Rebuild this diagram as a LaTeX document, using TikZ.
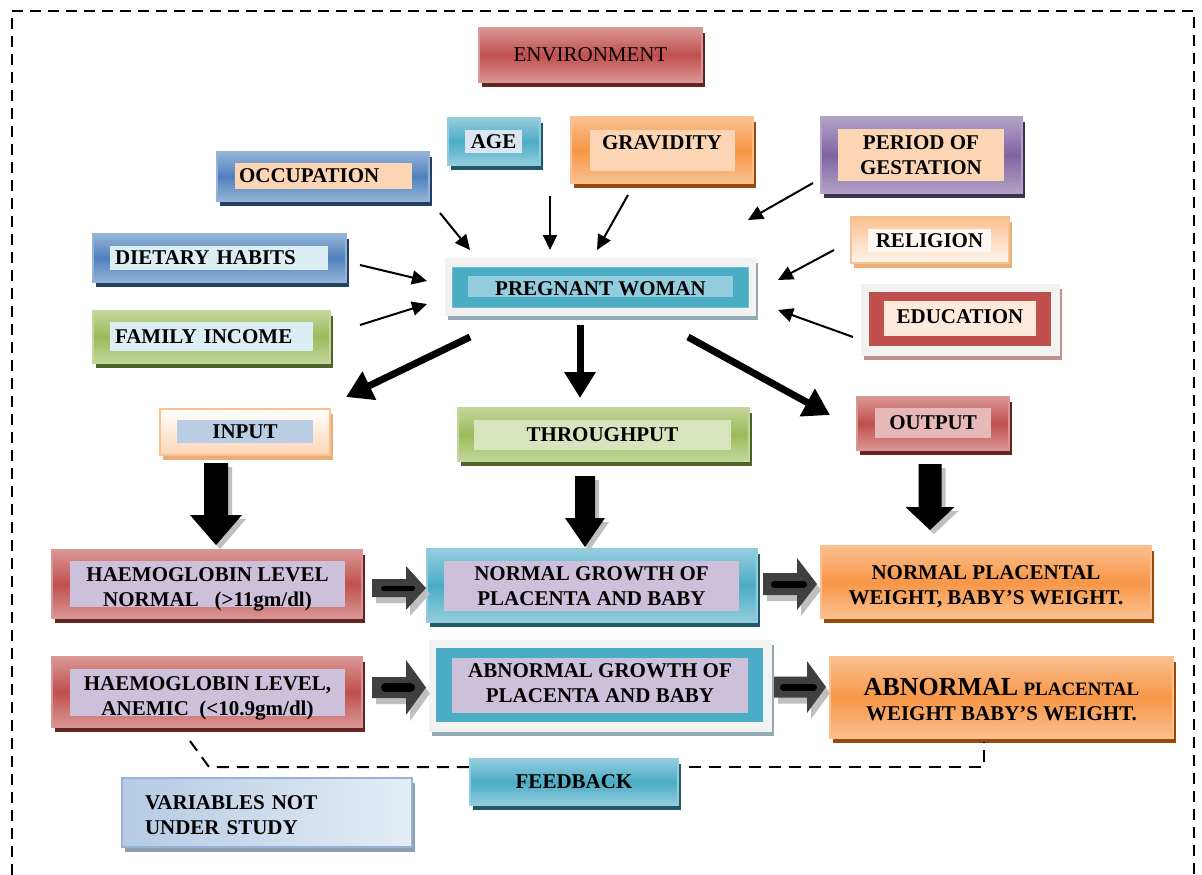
\documentclass[tikz,border=0pt]{standalone}
\usepackage{fontspec}
\setmainfont{Liberation Serif}
\usetikzlibrary{shadows,arrows.meta,calc}
\definecolor{redL}{HTML}{D99694}\definecolor{redM}{HTML}{C0504D}\definecolor{redS}{HTML}{632523}
\definecolor{bluL}{HTML}{95B3D7}\definecolor{bluM}{HTML}{4F81BD}\definecolor{bluS}{HTML}{243F60}
\definecolor{aquL}{HTML}{93CDDD}\definecolor{aquM}{HTML}{4BACC6}\definecolor{aquS}{HTML}{215968}
\definecolor{oraL}{HTML}{FAC090}\definecolor{oraM}{HTML}{F79646}\definecolor{oraS}{HTML}{984807}
\definecolor{purL}{HTML}{B3A2C7}\definecolor{purM}{HTML}{8064A2}\definecolor{purS}{HTML}{3F3151}
\definecolor{grnL}{HTML}{C3D69B}\definecolor{grnM}{HTML}{9BBB59}\definecolor{grnS}{HTML}{4F6228}
\definecolor{peach}{HTML}{FCD5B5}\definecolor{iceblue}{HTML}{DBEEF4}\definecolor{lav}{HTML}{CCC0DA}
\definecolor{ltgrn}{HTML}{D7E4BD}\definecolor{pinkl}{HTML}{E6B9B8}\definecolor{inblue}{HTML}{B9CDE5}
\definecolor{grayblue}{HTML}{DBE5F1}\definecolor{paleor}{HTML}{FDEADA}\definecolor{frameg}{HTML}{F2F2F2}
\definecolor{ltshadow}{HTML}{93A9B5}\definecolor{arrg}{HTML}{404040}\definecolor{arrsh}{HTML}{BFBFBF}
\newcommand\blkdown[6]{%
  \fill[arrsh,shift={(4,4)}] ({#1-#5},#2) -- ({#1+#5},#2) -- ({#1+#5},#3) -- ({#1+#6},#3) -- (#1,#4) -- ({#1-#6},#3) -- ({#1-#5},#3) -- cycle;
  \fill[black] ({#1-#5},#2) -- ({#1+#5},#2) -- ({#1+#5},#3) -- ({#1+#6},#3) -- (#1,#4) -- ({#1-#6},#3) -- ({#1-#5},#3) -- cycle;}
\newcommand\blkright[9]{% x0, xhead, xtip, cy, shaft half, head half, bar x0, bar x1, bar half
  \fill[arrsh,shift={(4,6)}] (#1,{#4-#5}) -- (#2,{#4-#5}) -- (#2,{#4-#6}) -- (#3,#4) -- (#2,{#4+#6}) -- (#2,{#4+#5}) -- (#1,{#4+#5}) -- cycle;
  \fill[arrg] (#1,{#4-#5}) -- (#2,{#4-#5}) -- (#2,{#4-#6}) -- (#3,#4) -- (#2,{#4+#6}) -- (#2,{#4+#5}) -- (#1,{#4+#5}) -- cycle;
  \draw[black,line width={2*#9},line cap=round] ({#7+#9},#4) -- ({#8-#9},#4);}
\tikzset{
  gbox/.style n args={3}{draw=#1, line width=1.2pt, top color=#1, bottom color=#1, middle color=#2,
    inner sep=0pt, align=center, drop shadow={shadow xshift=3pt,shadow yshift=-5pt,fill=#3,opacity=1}},
  lab/.style={fill=#1, inner sep=0pt, align=center},
  fbox/.style={fill=frameg, draw=white!90!gray, line width=0.8pt, inner sep=0pt,
    drop shadow={shadow xshift=3pt,shadow yshift=-5pt,fill=#1,opacity=1}},
  twolow/.style={text height=45pt, text depth=0pt},
  twomid/.style={text height=39pt, text depth=0pt},
  thinarr/.style={line width=2pt, -{Triangle[length=15pt,width=14pt]}},
  thickarr/.style={line width=7pt, -{Triangle[length=26pt,width=30pt]}},
  fbline/.style={line width=2pt, dash pattern=on 12pt off 8pt},
  frameline/.style={line width=2pt, dash pattern=on 11pt off 7pt},
}
\begin{document}
\begin{tikzpicture}[x=1pt,y=-1pt,font=\fontsize{21}{25}\selectfont\bfseries]
\useasboundingbox (0,0) rectangle (1202,875);
\fill[white] (0,0) rectangle (1202,875);
\draw[frameline] (12,875) -- (12,11) -- (1194,11) -- (1194,875);

% top boxes
\node[gbox={redL}{redM}{redS}, minimum width=223, minimum height=54, font=\fontsize{21}{25}\selectfont\mdseries] (env) at (590.5,55) {ENVIRONMENT};

\node[gbox={aquL}{aquM}{aquS}, minimum width=92, minimum height=47] (age) at (494,141.5) {};
\node[lab=grayblue, minimum width=57, minimum height=23] (agel) at (493.5,141.5) {AGE};

\node[gbox={oraL}{oraM}{oraS}, minimum width=182, minimum height=66] (grav) at (662,150) {};
\node[lab=peach, minimum width=145, minimum height=41] (gravl) at (662.5,150.5) {};
\node (gravt) at (662,143) {GRAVIDITY};

\node[gbox={bluL}{bluM}{bluS}, minimum width=212, minimum height=49] (occ) at (323,176.5) {};
\node[lab=peach, inner xsep=4pt, text width=169pt, minimum height=26, align=left] (occl) at (323.5,176) {OCCUPATION};

\node[gbox={purL}{purM}{purS}, minimum width=201, minimum height=76] (per) at (921.5,155) {};
\node[lab=peach, twomid, minimum width=166, minimum height=52] (perl) at (921,155) {PERIOD OF\\GESTATION};

\node[gbox={bluL}{bluM}{bluS}, minimum width=253, minimum height=48] (diet) at (219.5,258) {};
\node[lab=iceblue, inner xsep=5pt, text width=208pt, minimum height=24, align=left] (dietl) at (219,258) {DIETARY HABITS};

\node[gbox={grnL}{grnM}{grnS}, minimum width=237, minimum height=52] (fam) at (211.5,337) {};
\node[lab=iceblue, inner xsep=5pt, text width=193pt, minimum height=29, align=left] (faml) at (211.5,336.5) {FAMILY INCOME};

% pregnant woman
\node[fbox=ltshadow, minimum width=310, minimum height=57] (preg) at (600,286.5) {};
\node[fill=aquM, draw=aquM!80!white, line width=0.8pt, inner sep=0pt, minimum width=296, minimum height=40] (pregin) at (600,287) {};
\node[lab=aquL, minimum width=265, minimum height=21, text height=18pt, text depth=0pt] (pregl) at (600.5,286.5) {PREGNANT WOMAN};

% religion, education
\node[draw=oraL, line width=1.2pt, top color=oraL, bottom color=white!85!oraL, inner sep=0pt,
  drop shadow={shadow xshift=3pt,shadow yshift=-5pt,fill=oraL!70!brown,opacity=1},
  minimum width=158, minimum height=46] (rel) at (930,240) {};
\node[lab=white!88!oraL, minimum width=123, minimum height=23] (rell) at (929.5,240.5) {RELIGION};

\node[fbox=redL!70!gray, minimum width=198, minimum height=71] (edu) at (960,319.5) {};
\node[fill=redM, inner sep=0pt, minimum width=182, minimum height=54] (eduin) at (960,319) {};
\node[lab=paleor, minimum width=152, minimum height=35, text height=14pt, text depth=4pt] (edul) at (960,318.5) {EDUCATION};

% input / throughput / output
\node[draw=oraL, line width=1.2pt, top color=white, bottom color=peach, inner sep=0pt,
  drop shadow={shadow xshift=3pt,shadow yshift=-5pt,fill=oraL!70!brown,opacity=1},
  minimum width=170, minimum height=46] (inp) at (245,432) {};
\node[lab=inblue, minimum width=136, minimum height=23] (inpl) at (245,431.5) {INPUT};

\node[gbox={grnL}{grnM}{grnS}, minimum width=291, minimum height=53] (thr) at (603.5,434.5) {};
\node[lab=ltgrn, minimum width=257, minimum height=30] (thrl) at (602.5,435) {THROUGHPUT};

\node[gbox={redL}{redM}{redS}, minimum width=152, minimum height=53] (out) at (933,423.5) {};
\node[lab=pinkl, minimum width=116, minimum height=30] (outl) at (933,423) {OUTPUT};

% rows
\node[gbox={redL}{redM}{redS}, minimum width=310, minimum height=68] (hbn) at (207,584) {};
\node[lab=lav, twolow, minimum width=275, minimum height=46] (hbnl) at (207.5,584) {HAEMOGLOBIN LEVEL\\NORMAL\ \ \ (>11gm/dl)};

\node[gbox={aquL}{aquM}{aquS}, minimum width=330, minimum height=73] (ng) at (592,585.5) {};
\node[lab=lav, twomid, minimum width=295, minimum height=50] (ngl) at (591.5,586) {NORMAL GROWTH OF\\PLACENTA AND BABY};

\node[gbox={oraL}{oraM}{oraS}, twolow, minimum width=330, minimum height=72] (np) at (986,582) {NORMAL PLACENTAL\\WEIGHT, BABY’S WEIGHT.};

\node[gbox={redL}{redM}{redS}, minimum width=310, minimum height=70] (hba) at (207,692) {};
\node[lab=lav, twolow, minimum width=275, minimum height=47] (hbal) at (207.5,692.5) {HAEMOGLOBIN LEVEL,\\ANEMIC\ \ (<10.9gm/dl)};

\node[fbox=ltshadow, minimum width=342, minimum height=91] (ag) at (600,685.5) {};
\node[fill=aquM, inner sep=0pt, minimum width=327, minimum height=74] (agin) at (599.5,685) {};
\node[lab=lav, minimum width=296, minimum height=55] (agl) at (600,685.5) {};
\node[align=center, twomid, inner sep=0pt] (agt) at (600,682.5) {ABNORMAL GROWTH OF\\PLACENTA AND BABY};

\node[gbox={oraL}{oraM}{oraS}, twolow, minimum width=343, minimum height=81] (ap) at (1001.5,697.5)
  {{\fontsize{26}{25}\selectfont ABNORMAL} {\fontsize{19}{25}\selectfont PLACENTAL}\\WEIGHT BABY’S WEIGHT.};

\node[gbox={aquL}{aquM}{aquS}, minimum width=208, minimum height=46] (fb) at (574,782) {FEEDBACK};

\node[draw=bluL, line width=1.2pt, left color=bluL!70!white, right color=grayblue!70!white, inner sep=0pt,
  drop shadow={shadow xshift=3pt,shadow yshift=-5pt,fill=bluL!60!gray,opacity=1},
  text height=14pt, text depth=21pt, minimum height=69, inner xsep=23pt, text width=244pt, align=left] (var) at (267,812.5) {VARIABLES NOT\\UNDER STUDY};

% thin arrows
\coordinate (a1s) at (440,213); \coordinate (a1e) at (470,250);
\coordinate (a2s) at (550,196); \coordinate (a2e) at (550,250);
\coordinate (a3s) at (628,195); \coordinate (a3e) at (597,250);
\coordinate (a4s) at (813,183); \coordinate (a4e) at (748,220);
\coordinate (a5s) at (360,265); \coordinate (a5e) at (427,281);
\coordinate (a6s) at (360,325); \coordinate (a6e) at (427,304);
\coordinate (a7s) at (834,250); \coordinate (a7e) at (778,280);
\coordinate (a8s) at (853,337); \coordinate (a8e) at (778,310);
\foreach \i in {1,...,8} {\draw[thinarr] (a\i s) -- (a\i e);}

% thick arrows
\coordinate (b1s) at (470,337); \coordinate (b1e) at (346,397);
\coordinate (b2s) at (580,325); \coordinate (b2e) at (580,398);
\coordinate (b3s) at (688,337); \coordinate (b3e) at (830,415);
\foreach \i in {1,2,3} {\draw[thickarr] (b\i s) -- (b\i e);}

% block arrows down
\blkdown{216}{463}{515}{545}{12}{26}
\blkdown{585}{476}{518}{547}{10}{20}
\blkdown{930}{464}{507}{530}{11.5}{24.5}

% block arrows right
\blkright{372}{406}{426}{588}{9}{22}{381}{415}{2.5}
\blkright{763}{797}{817}{584}{11}{26}{771}{807}{3.5}
\blkright{372}{406}{426}{687.5}{10.5}{27.5}{381}{415}{4.5}
\blkright{774}{807}{826}{687}{10.5}{26}{780}{817}{3.5}

% feedback line
\coordinate (fA) at (190,741); \coordinate (fB) at (209,767);
\coordinate (fC) at (984,767); \coordinate (fD) at (984,742);
\draw[fbline] (fA) -- (fB) -- (fB -| fb.west);
\draw[fbline] ([xshift=10pt]fb.east |- fC) -- (fC) -- (fD);
\end{tikzpicture}
\end{document}
